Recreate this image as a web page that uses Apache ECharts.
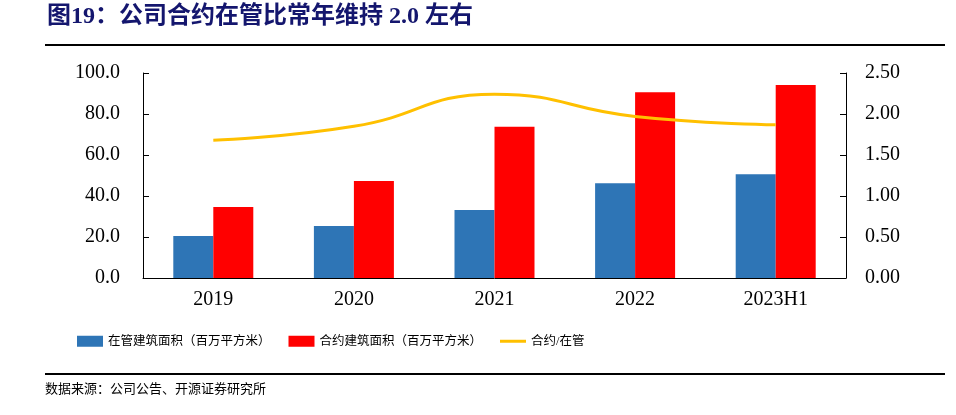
<!DOCTYPE html>
<html><head><meta charset="utf-8">
<script src="https://cdn.jsdelivr.net/npm/echarts@6/dist/echarts.min.js"></script>
<style>html,body{margin:0;padding:0;background:#fff}#c{width:956px;height:415px}</style>
</head><body><div id="c"></div>
<script>
const categories = ['2019','2020','2021','2022','2023H1'];
const managedArea = [20.5, 25.4, 33.2, 46.2, 50.6];
const contractArea = [34.6, 47.3, 73.8, 90.6, 94.1];
const ratio = [1.68, 1.85, 2.24, 1.97, 1.87];
const leftTicks = [0, 20, 40, 60, 80, 100];
const rightTicks = [0, 0.5, 1, 1.5, 2, 2.5];
const seriesNames = ['在管建筑面积（百万平方米）', '合约建筑面积（百万平方米）', '合约/在管'];
const titleText = '图19：公司合约在管比常年维持 2.0 左右';
const sourceText = '数据来源：公司公告、开源证券研究所';

const serif = '"Liberation Serif","Times New Roman","Noto Sans CJK SC",serif';
const cjk = '"Liberation Serif","Noto Sans CJK SC",sans-serif';
const chart = echarts.init(document.getElementById('c'), null, {renderer:'canvas'});
chart.setOption({
  backgroundColor:'#fff',
  animation:false,
  graphic:[
    {type:'text', left:47, top:5, style:{text:titleText, font:'bold 24px '+cjk, fill:'#14166e'}},
    {type:'rect', shape:{x:45, y:44, width:900, height:2}, style:{fill:'#000'}},
    {type:'rect', shape:{x:45, y:373, width:900, height:2}, style:{fill:'#000'}},
    {type:'text', left:45, top:383, style:{text:sourceText, font:'13px '+cjk, fill:'#000'}}
  ],
  grid:{left:143, right:110, top:73, bottom:137},
  legend:{
    top:330, left:72, itemWidth:26, itemHeight:11, itemGap:18,
    textStyle:{fontFamily:cjk, fontSize:12.5, color:'#000'},
    data:[{name:seriesNames[0], icon:'rect'},{name:seriesNames[1], icon:'rect'},{name:seriesNames[2], icon:'path://M0,0 L26,0 L26,3 L0,3 Z'}]
  },
  xAxis:{
    type:'category', data:categories,
    axisLine:{lineStyle:{color:'#000', width:1}},
    axisTick:{inside:true, length:6, lineStyle:{color:'#000'}},
    axisLabel:{fontFamily:serif, fontSize:20, color:'#000', margin:12}
  },
  yAxis:[
    {type:'value', min:0, max:100, interval:20,
     axisLine:{show:true, lineStyle:{color:'#000'}},
     axisTick:{show:true, inside:true, length:6, lineStyle:{color:'#000'}},
     splitLine:{show:false},
     axisLabel:{fontFamily:serif, fontSize:20, color:'#000', margin:23, formatter:v=>v.toFixed(1)}},
    {type:'value', min:0, max:2.5, interval:0.5,
     axisLine:{show:true, lineStyle:{color:'#000'}},
     axisTick:{show:true, inside:true, length:6, lineStyle:{color:'#000'}},
     splitLine:{show:false},
     axisLabel:{fontFamily:serif, fontSize:20, color:'#000', margin:19, formatter:v=>v.toFixed(2)}}
  ],
  series:[
    {name:seriesNames[0], type:'bar', data:managedArea, barWidth:40, barGap:'0%', itemStyle:{color:'#2e75b6'}},
    {name:seriesNames[1], type:'bar', data:contractArea, barWidth:40, itemStyle:{color:'#ff0000'}},
    {name:seriesNames[2], type:'line', yAxisIndex:1, data:ratio, smooth:0.5, symbol:'none', lineStyle:{color:'#ffc000', width:3}, itemStyle:{color:'#ffc000'}}
  ]
});
</script></body></html>
